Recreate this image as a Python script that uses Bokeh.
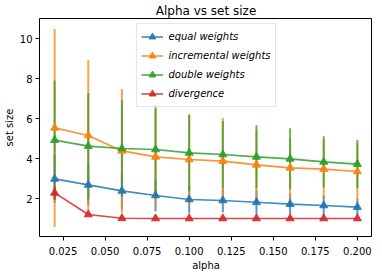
from bokeh.plotting import figure
from bokeh.models import Range1d, Legend, LegendItem, FixedTicker
from bokeh.embed import file_html
from bokeh.resources import INLINE

alpha = [0.02, 0.04, 0.06, 0.08, 0.10, 0.12, 0.14, 0.16, 0.18, 0.20]

equal_mean = [2.98, 2.68, 2.38, 2.15, 1.95, 1.90, 1.81, 1.72, 1.65, 1.57]
equal_err = [1.2, 1.0, 0.9, 0.8, 0.7, 0.6, 0.6, 0.5, 0.5, 0.4]

incr_mean = [5.53, 5.15, 4.38, 4.08, 3.95, 3.87, 3.68, 3.53, 3.47, 3.35]
incr_err = [4.95, 3.78, 3.09, 2.40, 2.28, 2.15, 1.73, 1.50, 1.49, 1.43]

double_mean = [4.92, 4.62, 4.50, 4.45, 4.28, 4.20, 4.08, 3.98, 3.83, 3.72]
double_err = [2.98, 2.66, 2.43, 2.22, 1.88, 1.67, 1.58, 1.53, 1.28, 1.20]

div_mean = [2.28, 1.20, 1.01, 1.0, 1.0, 1.0, 1.0, 1.0, 1.0, 1.0]
div_err = [0.32, 0.0, 0.0, 0.0, 0.0, 0.0, 0.0, 0.0, 0.0, 0.0]

x_ticks = [0.025, 0.050, 0.075, 0.100, 0.125, 0.150, 0.175, 0.200]
x_tick_labels = ["0.025", "0.050", "0.075", "0.100", "0.125", "0.150", "0.175", "0.200"]
y_ticks = [2, 4, 6, 8, 10]

series = [
    ("equal weights", equal_mean, equal_err, "#1f77b4"),
    ("incremental weights", incr_mean, incr_err, "#ff7f0e"),
    ("double weights", double_mean, double_err, "#2ca02c"),
    ("divergence", div_mean, div_err, "#d62728"),
]

FONT = "DejaVu Sans"

p = figure(frame_width=333, frame_height=218, output_backend="svg", toolbar_location=None,
           x_range=Range1d(0.011, 0.209), y_range=Range1d(0.1, 11.0),
           title="Alpha vs set size")
p.min_border_left = 0
p.min_border_right = 0
p.min_border_top = 0
p.min_border_bottom = 0

p.title.align = "center"
p.title.text_font = FONT
p.title.text_font_size = "12px"
p.title.text_font_style = "normal"
p.title.text_color = "#000000"
p.title.standoff = 2
p.title.offset = 0

p.xgrid.visible = False
p.ygrid.visible = False
p.outline_line_color = "#000000"
p.outline_line_width = 1

for ax in (p.xaxis[0], p.yaxis[0]):
    ax.major_label_text_font = FONT
    ax.major_label_text_font_size = "10px"
    ax.major_label_text_color = "#000000"
    ax.axis_label_text_font = FONT
    ax.axis_label_text_font_size = "10px"
    ax.axis_label_text_font_style = "normal"
    ax.axis_label_text_color = "#000000"
    ax.major_tick_out = 4
    ax.major_tick_in = 0
    ax.minor_tick_out = 0
    ax.minor_tick_in = 0
    ax.axis_line_color = None
    ax.major_tick_line_color = "#000000"
    ax.axis_label_standoff = 2

p.xaxis[0].major_label_standoff = 6
p.yaxis[0].major_label_standoff = 3

p.xaxis.axis_label = "alpha"
p.yaxis.axis_label = "set size"
p.xaxis.ticker = FixedTicker(ticks=x_ticks)
p.xaxis.major_label_overrides = {t: l for t, l in zip(x_ticks, x_tick_labels)}
p.yaxis.ticker = FixedTicker(ticks=y_ticks)

# error bars first (below all lines)
for name, m, e, c in series:
    lo = [a - b for a, b in zip(m, e)]
    hi = [a + b for a, b in zip(m, e)]
    p.segment(x0=alpha, y0=lo, x1=alpha, y1=hi, line_color=c, line_width=2, line_alpha=0.75)

items = []
for name, m, e, c in series:
    ln = p.line(alpha, m, line_color=c, line_width=1.6, line_alpha=0.85)
    sc = p.scatter(alpha, m, marker="triangle", size=8, fill_color=c, line_color=c,
                   fill_alpha=0.9, line_alpha=0.9)
    items.append(LegendItem(label=name, renderers=[ln, sc]))

legend = Legend(items=items, location="top_center")
legend.label_text_font = FONT
legend.label_text_font_size = "10px"
legend.label_text_font_style = "italic"
legend.label_text_color = "#000000"
legend.glyph_width = 22
legend.glyph_height = 17
legend.label_height = 17
legend.spacing = 2
legend.padding = 4
legend.margin = 5
legend.label_standoff = 6
legend.border_line_color = "#cccccc"
legend.border_line_width = 1
legend.background_fill_alpha = 0.8
p.add_layout(legend)

open("out.html", "w").write(file_html(p, INLINE))
